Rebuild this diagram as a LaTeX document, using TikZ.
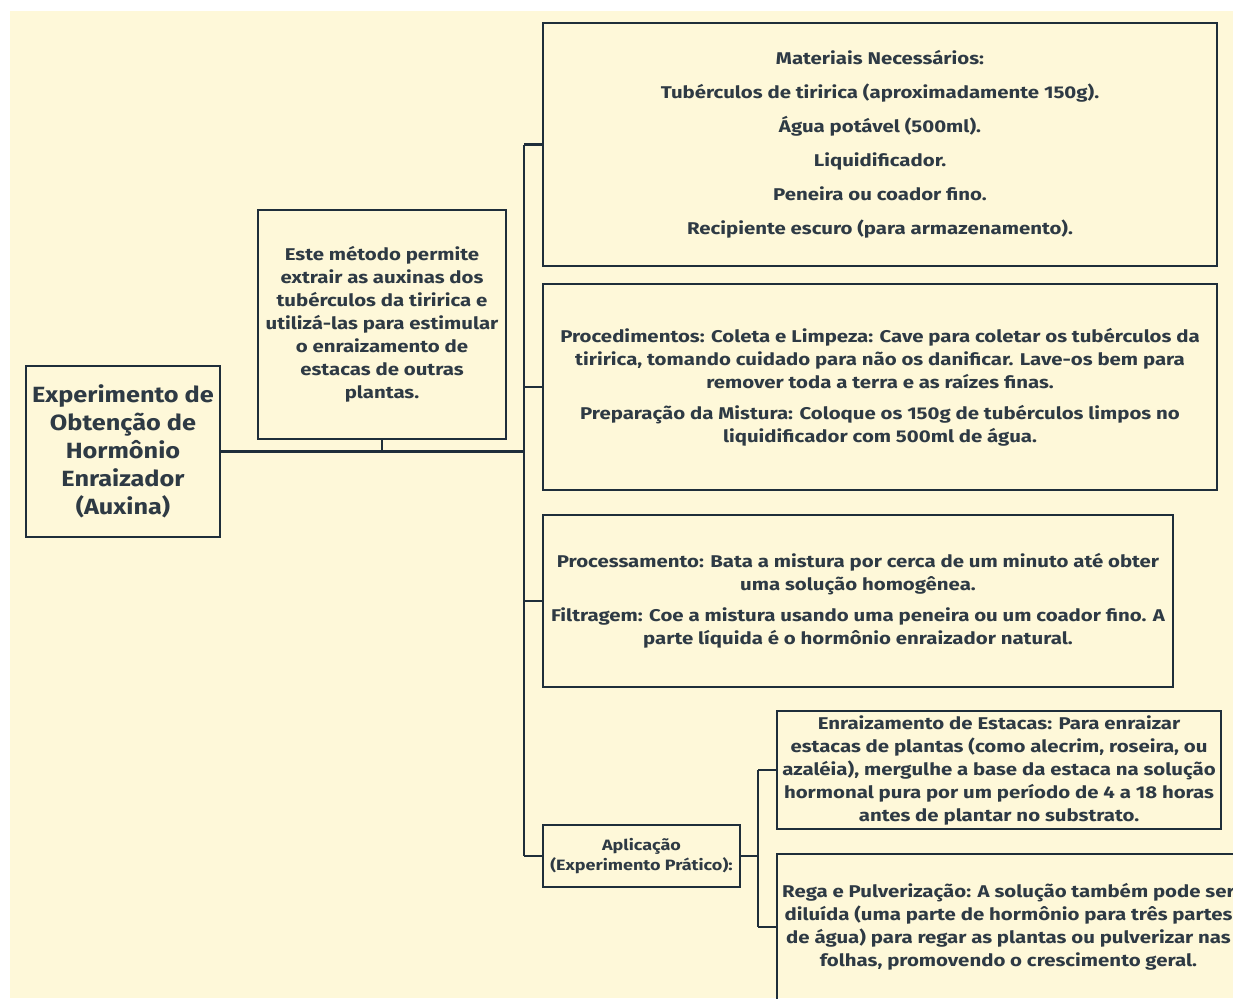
\documentclass[tikz,border=0pt]{standalone}
\usepackage{fontspec}
\setmainfont{Fira Sans}
\newfontfamily\boxfont[FakeStretch=1.2]{Fira Sans}
\newfontfamily\titlefont[FakeStretch=1.15]{Fira Sans}
\definecolor{bg}{HTML}{FEF8D9}
\definecolor{ln}{HTML}{1F2E3A}
\definecolor{tx}{HTML}{2E3A44}
\begin{document}
\begin{tikzpicture}[x=1pt,y=-1pt,
 box/.style={draw=ln, line width=2.6pt, align=center, text=tx, font=\boxfont\bfseries\fontsize{17}{23}\selectfont, inner sep=0pt},
 wire/.style={draw=ln, line width=2.6pt}]
\useasboundingbox (0,0) rectangle (1233,998);
\fill[white] (0,0) rectangle (1233,998);
\fill[bg] (10,11) rectangle (1233,998);
\begin{scope}
\clip (0,0) rectangle (1233,998);
\node[box, minimum width=194pt, minimum height=171pt, font=\titlefont\bfseries\fontsize{22}{28}\selectfont] (main) at (123,451.5)
 {Experimento de\\Obtenção de\\Hormônio\\Enraizador\\(Auxina)};
\node[box, minimum width=248pt, minimum height=229pt] (intro) at (382,324.5)
 {Este método permite\\extrair as auxinas dos\\tubérculos da tiririca e\\utilizá-las para estimular\\o enraizamento de\\estacas de outras\\plantas.};
\node[box, minimum width=674pt, minimum height=243pt] (b1) at (880,144.5)
 {Materiais Necessários:\\[11pt]Tubérculos de tiririca (aproximadamente 150g).\\[11pt]Água potável (500ml).\\[11pt]Liquidificador.\\[11pt]Peneira ou coador fino.\\[11pt]Recipiente escuro (para armazenamento).};
\node[box, minimum width=674pt, minimum height=206pt] (b2) at (880,387)
 {Procedimentos: Coleta e Limpeza: Cave para coletar os tubérculos da\\tiririca, tomando cuidado para não os danificar. Lave-os bem para\\remover toda a terra e as raízes finas.\\[8pt]Preparação da Mistura: Coloque os 150g de tubérculos limpos no\\liquidificador com 500ml de água.};
\node[box, minimum width=630pt, minimum height=172pt] (b3) at (858,601)
 {Processamento: Bata a mistura por cerca de um minuto até obter\\uma solução homogênea.\\[8pt]Filtragem: Coe a mistura usando uma peneira ou um coador fino. A\\parte líquida é o hormônio enraizador natural.};
\node[box, minimum width=197pt, minimum height=62pt, font=\boxfont\bfseries\fontsize{15}{20}\selectfont] (b4) at (641.5,856)
 {Aplicação\\(Experimento Prático):};
\node[box, minimum width=444pt, minimum height=118pt] (b5) at (999,770)
 {Enraizamento de Estacas: Para enraizar\\estacas de plantas (como alecrim, roseira, ou\\azaléia), mergulhe a base da estaca na solução\\hormonal pura por um período de 4 a 18 horas\\antes de plantar no substrato.};
\node[box, minimum width=463pt, minimum height=146pt] (b6) at (1008.5,927)
 {Rega e Pulverização: A solução também pode ser\\diluída (uma parte de hormônio para três partes\\de água) para regar as plantas ou pulverizar nas\\folhas, promovendo o crescimento geral.};
\coordinate (j) at (524,451.5);
\coordinate (k) at (758,856);
\draw[wire] (main.east) -- (j);
\draw[wire] (intro.south) -- (intro.south |- j);
\draw[wire] (b1.west -| j) -- (b4.west -| j);
\draw[wire] (b1.west -| j) -- (b1.west);
\draw[wire] (b2.west -| j) -- (b2.west);
\draw[wire] (b3.west -| j) -- (b3.west);
\draw[wire] (b4.west -| j) -- (b4.west);
\draw[wire] (b4.east) -- (k);
\draw[wire] (b5.west -| k) -- (b6.west -| k);
\draw[wire] (b5.west -| k) -- (b5.west);
\draw[wire] (b6.west -| k) -- (b6.west);
\end{scope}
\end{tikzpicture}
\end{document}
